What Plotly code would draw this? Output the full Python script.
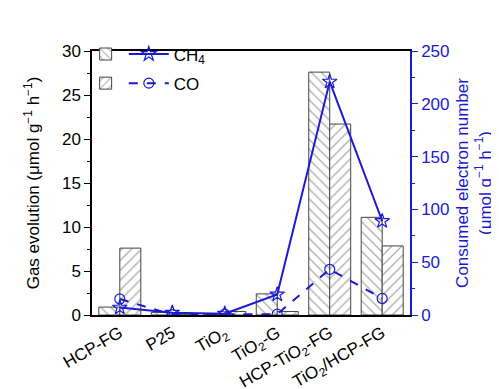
import plotly.graph_objects as go

categories = ["HCP-FG", "P25", "TiO<sub>2</sub>", "TiO<sub>2</sub>-G",
              "HCP-TiO<sub>2</sub>-FG", "TiO<sub>2</sub>/HCP-FG"]
ch4_gas = [0.9, 0.3, 0.1, 2.4, 27.6, 11.1]
co_gas = [7.6, 0.1, 0.4, 0.4, 21.7, 7.85]
ch4_electron = [7.0, 2.2, 1.2, 19.5, 221, 89]
co_electron = [15.2, 0.3, 0.8, 0.8, 43.3, 15.7]

BLUE = "#1a1ad2"
FONT = "Arial, Liberation Sans, sans-serif"

fig = go.Figure()
fig.add_trace(go.Bar(
    x=categories, y=ch4_gas, name=" ", legend="legend", legendgroup="a",
    marker=dict(color="white", line=dict(color="#444444", width=1),
                pattern=dict(shape="\\", fgcolor="#555555", bgcolor="white", size=7, solidity=0.18)),
))
fig.add_trace(go.Bar(
    x=categories, y=co_gas, name=" ", legend="legend", legendgroup="b",
    marker=dict(color="white", line=dict(color="#444444", width=1),
                pattern=dict(shape="/", fgcolor="#555555", bgcolor="white", size=7, solidity=0.18)),
))
fig.add_trace(go.Scatter(
    x=categories, y=ch4_electron, yaxis="y2", name="CH<sub>4</sub>", legend="legend2", legendgroup="c",
    mode="lines+markers", line=dict(color=BLUE, width=2),
    marker=dict(symbol="star-open", size=11, color=BLUE, line=dict(width=1.2)),
))
fig.add_trace(go.Scatter(
    x=categories, y=co_electron, yaxis="y2", name="CO", legend="legend2", legendgroup="d",
    mode="lines+markers", line=dict(color=BLUE, width=2, dash="dash"),
    marker=dict(symbol="circle-open", size=10, color=BLUE, line=dict(width=1.2)),
))

fig.update_layout(
    width=499, height=389,
    margin=dict(l=84, r=97, t=43, b=82),
    paper_bgcolor="white", plot_bgcolor="white",
    font=dict(family=FONT, size=17, color="black"),
    barmode="group", bargap=0.2, bargroupgap=0,
    showlegend=True,
    legend=dict(x=-0.02, y=1.055, xanchor="left", yanchor="top", bgcolor="rgba(0,0,0,0)",
                font=dict(size=17), tracegroupgap=4, itemwidth=30),
    legend2=dict(x=0.1, y=1.055, xanchor="left", yanchor="top", bgcolor="rgba(0,0,0,0)",
                 font=dict(size=17), tracegroupgap=4, itemwidth=40),
    xaxis=dict(
        showline=True, linecolor="black", linewidth=1.5, mirror=True,
        ticks="", tickangle=-30, tickfont=dict(size=17), automargin=False,
        range=[-0.53, 5.53],
    ),
    yaxis=dict(
        range=[0, 30], dtick=5, showline=True, linecolor="black", linewidth=1.5,
        ticks="outside", ticklen=6, tickcolor="black", showgrid=False, zeroline=False,
        minor=dict(dtick=2.5, ticks="outside", ticklen=3, tickcolor="black"),
        title=dict(text="Gas evolution (μmol g<sup>−1</sup> h<sup>−1</sup>)", font=dict(size=17), standoff=18),
        tickfont=dict(size=17), automargin=False,
    ),
    yaxis2=dict(
        range=[0, 250], dtick=50, overlaying="y", side="right",
        showline=True, linecolor=BLUE, linewidth=1.5,
        ticks="outside", ticklen=6, tickcolor=BLUE, showgrid=False, zeroline=False,
        minor=dict(dtick=25, ticks="outside", ticklen=3, tickcolor=BLUE),
        tickfont=dict(size=17, color=BLUE), automargin=False,
        title=dict(text="Consumed electron number<br>(μmol g<sup>−1</sup> h<sup>−1</sup>)",
                   font=dict(size=17, color=BLUE), standoff=8),
    ),
)

fig.write_html("out.html")
